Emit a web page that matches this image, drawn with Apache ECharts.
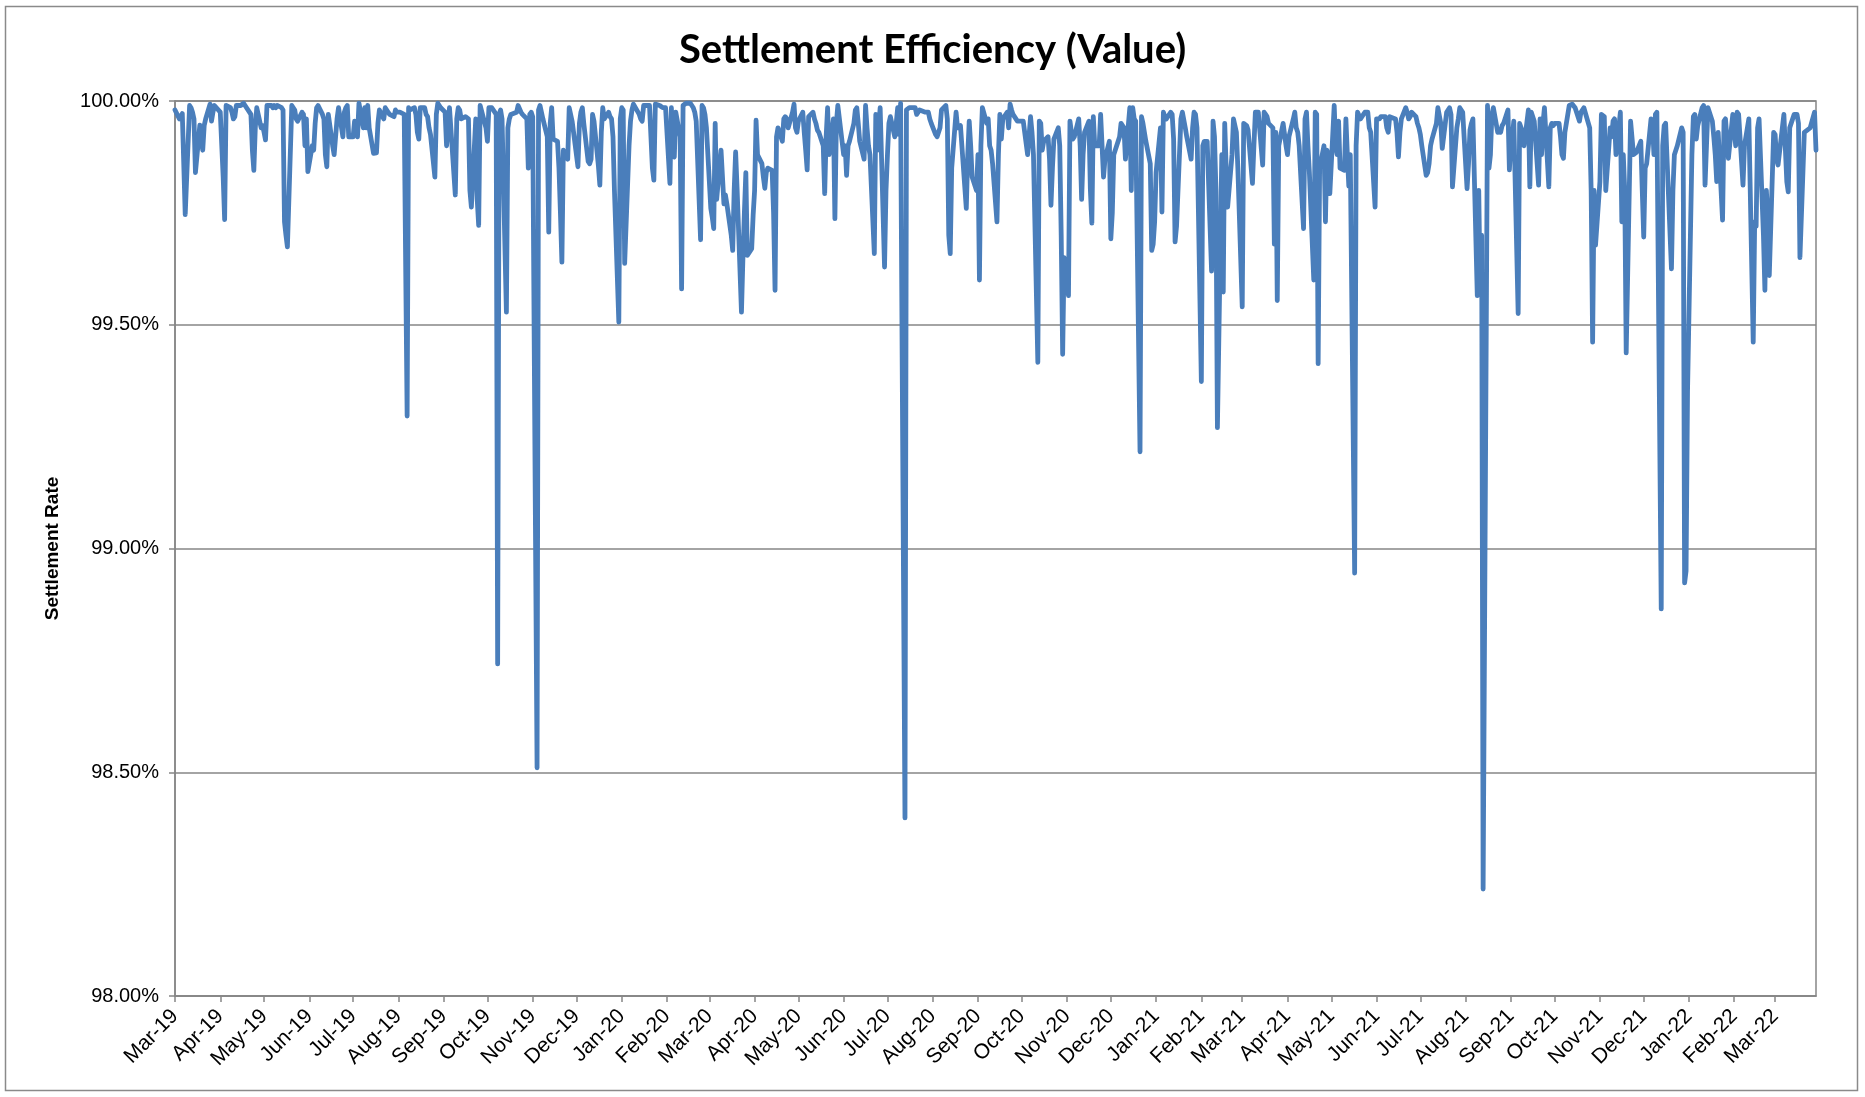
<!DOCTYPE html>
<html>
<head>
<meta charset="utf-8">
<script src="https://cdn.jsdelivr.net/npm/echarts@6/dist/echarts.min.js"></script>
<style>
  html, body { margin: 0; padding: 0; background: #ffffff; }
  #chart { width: 1865px; height: 1097px; }
</style>
</head>
<body>
<div id="chart"></div>
<script>
// ---- Data -------------------------------------------------------------
const chartTitle = 'Settlement Efficiency (Value)';
const yAxisTitle = 'Settlement Rate';
const startDate = '2019-03-01';
const endDate = '2022-03-29';
const monthNames = ['Jan','Feb','Mar','Apr','May','Jun','Jul','Aug','Sep','Oct','Nov','Dec'];
const yTicks = [98.0, 98.5, 99.0, 99.5, 100.0];

// Daily settlement rate (%) for each business day, in date order
const rates = [
99.98,
99.96,99.962,99.972,99.975,99.746,
99.99,99.985,99.975,99.96,99.84,
99.946,99.945,99.89,99.945,99.96,
99.993,99.955,99.975,99.99,99.99,
99.975,99.975,99.83,99.735,99.99,
99.985,99.975,99.96,99.965,99.99,
99.99,99.99,99.995,99.99,99.985,
99.97,99.89,99.845,99.94,99.985,
99.94,99.945,99.93,99.913,99.99,
99.99,99.985,99.99,99.985,99.99,
99.985,99.98,99.73,99.70,99.674,
99.99,99.985,99.98,99.96,99.955,
99.975,99.97,99.90,99.96,99.842,
99.90,99.89,99.95,99.985,99.99,
99.97,99.96,99.88,99.853,99.97,
99.90,99.88,99.88,99.96,99.985,
99.92,99.975,99.985,99.99,99.92,
99.92,99.955,99.955,99.92,99.995,
99.94,99.985,99.94,99.99,99.94,
99.883,99.88,99.884,99.95,99.98,
99.96,99.985,99.98,99.975,99.97,
99.965,99.98,99.975,99.975,99.975,
99.97,99.97,99.296,99.985,99.98,
99.985,99.97,99.93,99.915,99.985,
99.985,99.97,99.965,99.94,99.925,
99.83,99.97,99.995,99.99,99.985,
99.975,99.90,99.90,99.985,99.985,
99.79,99.96,99.985,99.98,99.96,
99.965,99.965,99.96,99.80,99.763,
99.96,99.78,99.722,99.99,99.99,
99.94,99.91,99.985,99.985,99.985,
99.97,98.742,99.97,99.98,99.96,
99.528,99.94,99.96,99.97,99.97,
99.975,99.99,99.99,99.975,99.97,
99.96,99.85,99.97,99.975,99.965,
98.51,99.98,99.99,99.975,99.96,
99.92,99.707,99.95,99.985,99.915,
99.91,99.85,99.75,99.64,99.89,
99.87,99.985,99.97,99.955,99.93,
99.853,99.95,99.975,99.985,99.95,
99.865,99.86,99.87,99.97,99.955,
99.855,99.812,99.93,99.985,99.96,
99.975,99.965,99.96,99.92,99.80,
99.506,99.96,99.985,99.98,99.637,
99.90,99.955,99.98,99.993,99.993,
99.97,99.96,99.955,99.99,99.993,
99.99,99.99,99.85,99.823,99.993,
99.99,99.99,99.985,99.985,99.985,
99.816,99.985,99.88,99.875,99.975,
99.92,99.58,99.99,99.99,99.995,
99.995,99.99,99.985,99.975,99.955,
99.69,99.99,99.985,99.97,99.94,
99.76,99.74,99.715,99.95,99.78,
99.89,99.89,99.77,99.79,99.77,
99.70,99.666,99.80,99.886,99.805,
99.528,99.65,99.75,99.84,99.655,
99.67,99.745,99.80,99.957,99.88,
99.86,99.83,99.805,99.84,99.85,
99.845,99.75,99.577,99.92,99.94,
99.91,99.96,99.965,99.96,99.94,
99.975,99.993,99.94,99.93,99.955,
99.975,99.93,99.89,99.846,99.965,
99.975,99.96,99.95,99.935,99.93,
99.90,99.793,99.92,99.985,99.88,
99.96,99.737,99.95,99.99,99.99,
99.88,99.90,99.834,99.90,99.91,
99.95,99.98,99.985,99.95,99.91,
99.87,99.99,99.94,99.90,99.88,
99.659,99.97,99.89,99.94,99.985,
99.629,99.80,99.88,99.95,99.965,
99.92,99.95,99.985,99.925,99.995,
98.398,99.98,99.98,99.985,99.985,
99.985,99.97,99.975,99.98,99.98,
99.975,99.975,99.975,99.96,99.95,
99.925,99.92,99.92,99.94,99.98,
99.99,99.96,99.70,99.659,99.85,
99.975,99.94,99.94,99.945,99.945,
99.76,99.88,99.955,99.90,99.83,
99.80,99.88,99.60,99.90,99.985,
99.95,99.96,99.90,99.89,99.86,
99.73,99.88,99.97,99.915,99.96,
99.975,99.94,99.993,99.98,99.97,
99.955,99.957,99.955,99.953,99.955,
99.88,99.88,99.965,99.93,99.88,
99.416,99.955,99.95,99.89,99.91,
99.92,99.87,99.767,99.85,99.915,
99.94,99.90,99.70,99.434,99.65,
99.565,99.955,99.93,99.915,99.92,
99.96,99.90,99.78,99.88,99.93,
99.955,99.80,99.727,99.965,99.90,
99.90,99.97,99.97,99.83,99.87,
99.91,99.692,99.75,99.88,99.89,
99.92,99.95,99.95,99.94,99.87,
99.985,99.80,99.985,99.96,99.955,
99.216,99.965,99.95,99.93,99.91,
99.86,99.666,99.68,99.73,99.84,
99.94,99.752,99.975,99.965,99.96,
99.975,99.97,99.915,99.685,99.72,
99.96,99.975,99.975,99.94,99.92,
99.87,99.94,99.975,99.97,99.94,
99.373,99.90,99.91,99.91,99.91,
99.62,99.955,99.92,99.80,99.27,
99.88,99.573,99.95,99.85,99.763,
99.88,99.96,99.96,99.93,99.85,
99.54,99.95,99.95,99.945,99.935,
99.816,99.90,99.975,99.975,99.975,
99.857,99.975,99.97,99.965,99.95,
99.94,99.68,99.93,99.554,99.90,
99.95,99.95,99.90,99.88,99.92,
99.96,99.975,99.94,99.93,99.90,
99.715,99.96,99.975,99.90,99.84,
99.60,99.975,99.97,99.413,99.85,
99.90,99.73,99.89,99.88,99.793,
99.99,99.90,99.88,99.955,99.85,
99.845,99.96,99.88,99.81,99.88,
98.945,99.90,99.975,99.975,99.96,
99.975,99.975,99.975,99.94,99.93,
99.763,99.96,99.96,99.96,99.965,
99.965,99.94,99.93,99.965,99.965,
99.96,99.93,99.875,99.93,99.96,
99.985,99.975,99.96,99.965,99.975,
99.965,99.95,99.94,99.925,99.90,
99.834,99.84,99.86,99.90,99.915,
99.95,99.985,99.985,99.95,99.894,
99.975,99.98,99.985,99.97,99.808,
99.94,99.96,99.985,99.98,99.975,
99.804,99.86,99.935,99.95,99.96,
99.565,99.80,99.57,99.70,98.239,
99.99,99.85,99.88,99.97,99.985,
99.93,99.935,99.93,99.945,99.95,
99.98,99.846,99.91,99.92,99.955,
99.525,99.95,99.94,99.93,99.90,
99.98,99.808,99.975,99.965,99.955,
99.812,99.96,99.88,99.95,99.985,
99.808,99.94,99.95,99.945,99.95,
99.95,99.92,99.88,99.872,99.93,
99.99,99.993,99.993,99.99,99.985,
99.955,99.975,99.98,99.985,99.985,
99.94,99.80,99.461,99.80,99.678,
99.82,99.97,99.97,99.965,99.80,
99.94,99.92,99.955,99.96,99.88,
99.975,99.73,99.88,99.80,99.437,
99.955,99.955,99.88,99.88,99.885,
99.91,99.80,99.696,99.85,99.86,
99.96,99.95,99.88,99.97,99.975,
98.865,99.90,99.945,99.95,99.95,
99.625,99.80,99.88,99.89,99.90,
99.94,99.93,98.923,98.95,99.35,
99.88,99.965,99.97,99.915,99.945,
99.985,99.99,99.812,99.90,99.985,
99.955,99.92,99.88,99.82,99.93,
99.734,99.955,99.96,99.96,99.872,
99.97,99.97,99.90,99.975,99.97,
99.812,99.90,99.92,99.92,99.96,
99.461,99.73,99.72,99.94,99.96,
99.70,99.577,99.80,99.74,99.61,
99.93,99.925,99.87,99.857,99.857,
99.97,99.97,99.82,99.797,99.94,
99.97,99.97,99.97,99.95,99.65,
99.93,99.93,99.935,99.935,99.94,
99.975,99.89
];

// ---- Build calendar categories and business-day points ----------------
function parseUTC(s) { const p = s.split('-').map(Number); return Date.UTC(p[0], p[1] - 1, p[2]); }
const categories = [];
const seriesData = [];
(function () {
  let k = 0, i = 0;
  for (let t = parseUTC(startDate); t <= parseUTC(endDate); t += 86400000, i++) {
    const d = new Date(t);
    categories.push(d.toISOString().slice(0, 10));
    const wd = d.getUTCDay();
    if (wd !== 0 && wd !== 6) {
      if (k < rates.length) seriesData.push([i, rates[k]]);
      k++;
    }
  }
})();

const isMonthStart = (idx, val) => String(val).slice(8, 10) === '01';
const fmtMonth = (val) => {
  const m = parseInt(val.slice(5, 7), 10);
  return monthNames[m - 1] + '-' + val.slice(2, 4);
};

// ---- Chart ------------------------------------------------------------
const chart = echarts.init(document.getElementById('chart'), null, { renderer: 'canvas' });
const axisGray = '#868686';
const FONT = '"Liberation Sans", Arial, sans-serif';

chart.setOption({
  animation: false,
  backgroundColor: '#ffffff',
  title: {
    text: chartTitle,
    left: 'center',
    top: 25,
    textStyle: { fontFamily: 'Lato, "Open Sans", sans-serif', fontWeight: 'bold', fontSize: 40, color: '#000' }
  },
  graphic: [{
    type: 'rect',
    shape: { x: 5.5, y: 6.5, width: 1852, height: 1084 },
    style: { fill: 'none', stroke: '#8a8a8a', lineWidth: 1.5 },
    silent: true
  }],
  grid: {
    left: 175, right: 49, top: 101, bottom: 101,
    show: true, borderColor: axisGray, borderWidth: 1.5, backgroundColor: 'transparent'
  },
  xAxis: {
    type: 'category',
    data: categories,
    boundaryGap: false,
    axisLine: { show: true, lineStyle: { color: axisGray, width: 1.5 } },
    axisTick: { show: true, interval: isMonthStart, length: 6, lineStyle: { color: axisGray, width: 1.5 } },
    axisLabel: {
      interval: isMonthStart,
      rotate: 45,
      margin: 17,
      fontFamily: FONT,
      fontSize: 21,
      color: '#000',
      formatter: fmtMonth
    },
    splitLine: { show: false }
  },
  yAxis: {
    type: 'value',
    min: yTicks[0],
    max: yTicks[yTicks.length - 1],
    interval: 0.5,
    name: yAxisTitle,
    nameLocation: 'middle',
    nameRotate: 90,
    nameGap: 113,
    nameTextStyle: { fontFamily: FONT, fontWeight: 'bold', fontSize: 19, color: '#000' },
    axisLine: { show: true, lineStyle: { color: axisGray, width: 1.5 } },
    axisTick: { show: true, length: 6, lineStyle: { color: axisGray, width: 1.5 } },
    axisLabel: {
      margin: 16,
      fontFamily: FONT,
      fontSize: 20,
      color: '#000',
      formatter: (v) => v.toFixed(2) + '%'
    },
    splitLine: { show: true, lineStyle: { color: axisGray, width: 1.5 } }
  },
  series: [{
    type: 'line',
    data: seriesData,
    showSymbol: false,
    symbol: 'none',
    connectNulls: true,
    lineStyle: { color: '#4A7EBB', width: 4.8, join: 'round', cap: 'round' },
    itemStyle: { color: '#4A7EBB' },
    z: 3
  }]
});
</script>
</body>
</html>
